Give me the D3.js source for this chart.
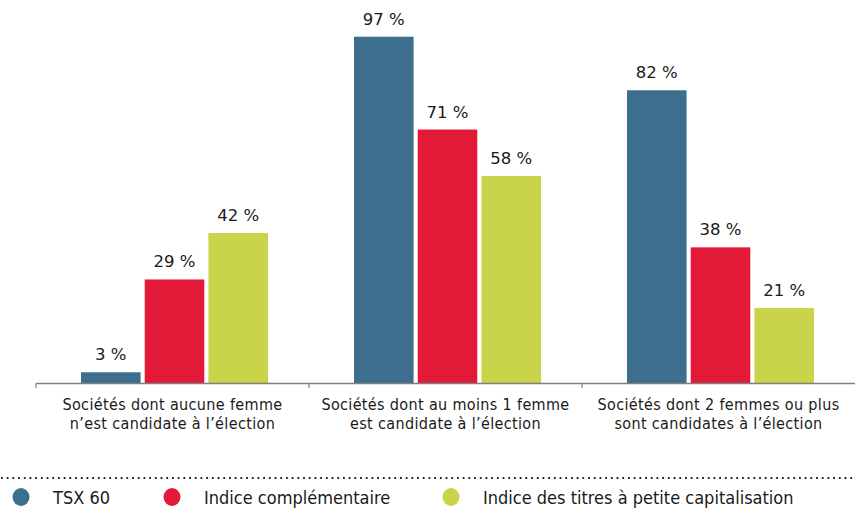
<!DOCTYPE html>
<html>
<head>
<meta charset="utf-8">
<script src="https://cdn.jsdelivr.net/npm/d3@7"></script>
<style>
  html, body { margin: 0; padding: 0; background: #fff; }
  svg { display: block; }
  .narrow { font-family: "Liberation Sans Narrow", "DejaVu Sans Condensed", "Roboto Condensed", "Liberation Sans", sans-serif; font-stretch: condensed; }
</style>
</head>
<body>
<svg id="chart" width="855" height="510"></svg>
<script>
// Catégories (deux lignes chacune)
const categories = [
  ["Sociétés dont aucune femme", "n’est candidate à l’élection"],
  ["Sociétés dont au moins 1 femme", "est candidate à l’élection"],
  ["Sociétés dont 2 femmes ou plus", "sont candidates à l’élection"]
];
const seriesNames = ["TSX 60", "Indice complémentaire", "Indice des titres à petite capitalisation"];
const tsx60 = [3, 97, 82];
const complementaire = [29, 71, 38];
const petiteCap = [42, 58, 21];
const seriesColors = ["#3d6e8e", "#e21937", "#c9d44a"];

const seriesValues = [tsx60, complementaire, petiteCap];

const svg = d3.select("#chart");
const margin = { left: 36, right: 0, top: 26, baseline: 383 };

const x0 = d3.scaleBand()
  .domain(d3.range(categories.length))
  .range([margin.left, 855])
  .paddingInner(0)
  .paddingOuter(0);

const x1 = d3.scaleBand()
  .domain(d3.range(seriesNames.length))
  .range([45, 232])
  .paddingInner(0.065);

const y = d3.scaleLinear()
  .domain([0, 100])
  .range([margin.baseline, margin.top]);

// Barres et valeurs
const groups = svg.append("g").selectAll("g")
  .data(categories)
  .join("g")
  .attr("transform", (d, i) => `translate(${x0(i)},0)`);

groups.each(function (cat, ci) {
  const g = d3.select(this);
  seriesValues.forEach((vals, si) => {
    const v = vals[ci];
    g.append("rect")
      .attr("x", x1(si))
      .attr("y", y(v))
      .attr("width", x1.bandwidth())
      .attr("height", y(0) - y(v))
      .attr("fill", seriesColors[si]);
    g.append("text")
      .attr("x", x1(si) + x1.bandwidth() / 2)
      .attr("y", y(v) - 12)
      .attr("text-anchor", "middle")
      .attr("font-family", "'DejaVu Sans', Verdana, sans-serif")
      .attr("font-size", 16.5)
      .attr("fill", "#1a1a1a")
      .text(`${v} %`);
  });
});

// Axe horizontal
const axis = d3.axisBottom(x0)
  .tickValues([0, 1, 2])
  .tickSizeInner(5)
  .tickSizeOuter(0)
  .tickFormat("");

const axisG = svg.append("g")
  .attr("transform", `translate(0,${margin.baseline})`)
  .call(axis);
axisG.select(".domain").attr("stroke", "#808080").attr("stroke-width", 1.6);
axisG.selectAll(".tick")
  .attr("transform", (d) => `translate(${x0(d)},0)`);
axisG.selectAll(".tick line").attr("stroke", "#808080").attr("stroke-width", 1.2);

// Étiquettes des catégories (une ligne de texte par rangée)
const catLabels = svg.append("g").attr("class", "narrow");
categories.forEach((lines, i) => {
  lines.forEach((line, k) => {
    catLabels.append("text")
      .attr("x", x0(i) + x0.bandwidth() / 2)
      .attr("y", 410 + k * 19)
      .attr("text-anchor", "middle")
      .attr("font-size", 16)
      .attr("letter-spacing", 0.35)
      .attr("fill", "#1a1a1a")
      .text(line);
  });
});

// Séparateur pointillé
svg.append("line")
  .attr("x1", 1).attr("x2", 855)
  .attr("y1", 478).attr("y2", 478)
  .attr("stroke", "#222")
  .attr("stroke-width", 2)
  .attr("stroke-dasharray", "1.8 3.9")
  .attr("stroke-linecap", "butt");

// Légende
const legendX = [21, 172, 451];
const legend = svg.append("g").attr("class", "narrow");
seriesNames.forEach((name, i) => {
  legend.append("ellipse")
    .attr("cx", legendX[i])
    .attr("cy", 497)
    .attr("rx", 8.5)
    .attr("ry", 9)
    .attr("fill", seriesColors[i]);
  legend.append("text")
    .attr("x", legendX[i] + 32)
    .attr("y", 504)
    .attr("font-size", 18)
    .attr("fill", "#1a1a1a")
    .text(name);
});
</script>
</body>
</html>
